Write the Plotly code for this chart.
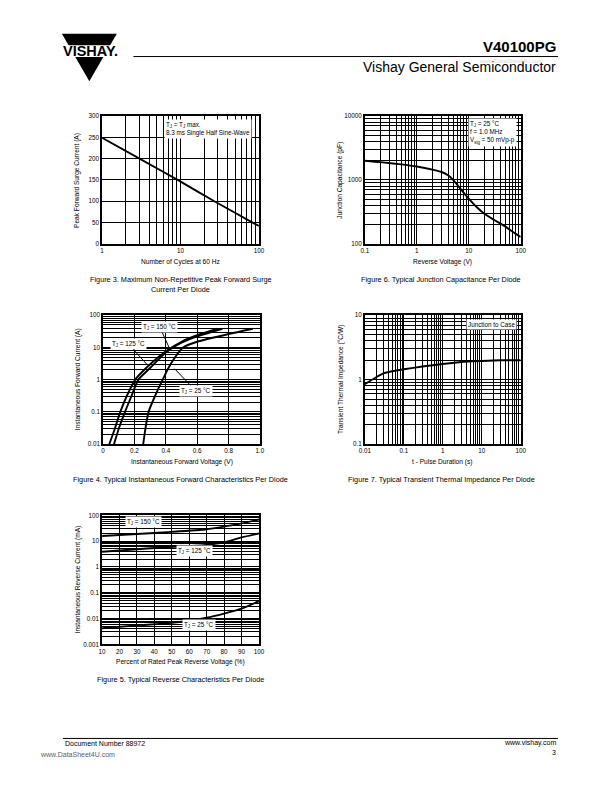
import plotly.graph_objects as go

W, H = 612, 792
FONT = "Liberation Sans, Arial, sans-serif"


def px(x):
    return x / W


def py(y):
    return 1 - y / H


# ---------------- data ----------------
# Figure 3: max non-repetitive peak forward surge current
f3_cycles = [1, 3, 9.2, 27, 83, 100]
f3_ifsm = [249, 200, 150, 100, 50, 42]

# Figure 6: junction capacitance
f6_vr = [0.1, 0.2, 0.5, 1, 2, 3, 4, 5, 7, 10, 14, 20, 30, 50, 70, 100]
f6_cj = [2000, 1900, 1750, 1620, 1450, 1330, 1180, 1000, 720, 510, 380, 295, 240, 188, 155, 128]

# Figure 4: forward characteristics
f4_v150 = [0.04, 0.075, 0.11, 0.15, 0.205, 0.30, 0.40, 0.50, 0.60, 0.73]
f4_i150 = [0.01, 0.03, 0.1, 0.3, 1, 3, 7.6, 15, 24, 38]
f4_v125 = [0.07, 0.10, 0.14, 0.18, 0.225, 0.30, 0.40, 0.50, 0.60, 0.76]
f4_i125 = [0.01, 0.03, 0.1, 0.3, 1, 2.3, 7, 14, 22, 38]
f4_v25 = [0.256, 0.27, 0.29, 0.33, 0.38, 0.43, 0.51, 0.60, 0.80, 0.955]
f4_i25 = [0.01, 0.03, 0.1, 0.3, 1, 3, 10, 15, 26, 38]

# Figure 7: transient thermal impedance
f7_t = [0.01, 0.02, 0.03, 0.05, 0.1, 0.3, 1, 3, 10, 30, 100]
f7_z = [0.85, 1.1, 1.25, 1.35, 1.45, 1.6, 1.75, 1.88, 1.95, 2.0, 2.0]

# Figure 5: reverse characteristics
f5_pct = [10, 30, 50, 70, 80, 90, 100]
f5_i150 = [16, 19, 23, 29, 37, 49, 70]
f5_i125 = [3.9, 4.9, 6.0, 7.2, 9.0, 14, 20]
f5_i25 = [0.0042, 0.0054, 0.0068, 0.0107, 0.0155, 0.024, 0.047]

# tick labels
f3_xlabels = ["1", "10", "100"]
f3_ylabels = ["0", "50", "100", "150", "200", "250", "300"]
f6_xlabels = ["0.1", "1", "10", "100"]
f6_ylabels = ["100", "1000", "10000"]
f4_xlabels = ["0", "0.2", "0.4", "0.6", "0.8", "1.0"]
f4_ylabels = ["0.01", "0.1", "1", "10", "100"]
f7_xlabels = ["0.01", "0.1", "1", "10", "100"]
f7_ylabels = ["0.1", "1", "10"]
f5_xlabels = ["10", "20", "30", "40", "50", "60", "70", "80", "90", "100"]
f5_ylabels = ["0.001", "0.01", "0.1", "1", "10", "100"]


def minor_log(labels):
    vals = []
    decs = [float(s) for s in labels]
    for d in decs[:-1]:
        for m in range(2, 10):
            vals.append(m * d)
    return vals


def axis(domain, typ, rng, labels, anchor, minor_vals=None):
    d = dict(
        domain=domain, type=typ, range=rng,
        tickvals=[float(s) for s in labels], ticktext=labels,
        showgrid=True, gridcolor="black", gridwidth=1, showline=True,
        linecolor="black", linewidth=1.5, mirror=True, ticks="",
        tickfont=dict(size=6.3, family=FONT, color="#000000"),
        zeroline=False, anchor=anchor, fixedrange=True,
    )
    if minor_vals is not None:
        d["minor"] = dict(tickmode="array", tickvals=minor_vals, showgrid=True,
                          gridcolor="black", gridwidth=1, ticks="")
    return d


fig = go.Figure()
line = dict(color="black", width=1.9, shape="spline", smoothing=0.6)

fig.add_trace(go.Scatter(x=f3_cycles, y=f3_ifsm, mode="lines", line=line, xaxis="x", yaxis="y"))
fig.add_trace(go.Scatter(x=f6_vr, y=f6_cj, mode="lines", line=line, xaxis="x2", yaxis="y2"))
fig.add_trace(go.Scatter(x=f4_v150, y=f4_i150, mode="lines", line=line, xaxis="x3", yaxis="y3"))
fig.add_trace(go.Scatter(x=f4_v125, y=f4_i125, mode="lines", line=line, xaxis="x3", yaxis="y3"))
fig.add_trace(go.Scatter(x=f4_v25, y=f4_i25, mode="lines", line=line, xaxis="x3", yaxis="y3"))
fig.add_trace(go.Scatter(x=f7_t, y=f7_z, mode="lines", line=line, xaxis="x4", yaxis="y4"))
fig.add_trace(go.Scatter(x=f5_pct, y=f5_i150, mode="lines", line=line, xaxis="x5", yaxis="y5"))
fig.add_trace(go.Scatter(x=f5_pct, y=f5_i125, mode="lines", line=line, xaxis="x5", yaxis="y5"))
fig.add_trace(go.Scatter(x=f5_pct, y=f5_i25, mode="lines", line=line, xaxis="x5", yaxis="y5"))

layout_axes = dict(
    xaxis=axis([px(98), px(258)], "log", [0, 2], f3_xlabels, "y", minor_log(f3_xlabels)),
    yaxis=axis([py(242), py(113)], "linear", [0, 300], f3_ylabels, "x"),
    xaxis2=axis([px(366), px(525)], "log", [-1, 2], f6_xlabels, "y2", minor_log(f6_xlabels)),
    yaxis2=axis([py(242), py(113)], "log", [2, 4], f6_ylabels, "x2", minor_log(f6_ylabels)),
    xaxis3=axis([px(99), px(259)], "linear", [0, 1], f4_xlabels, "y3"),
    yaxis3=axis([py(444), py(314)], "log", [-2, 2], f4_ylabels, "x3", minor_log(f4_ylabels)),
    xaxis4=axis([px(366), px(525)], "log", [-2, 2], f7_xlabels, "y4", minor_log(f7_xlabels)),
    yaxis4=axis([py(444), py(314)], "log", [-1, 1], f7_ylabels, "x4", minor_log(f7_ylabels)),
    xaxis5=axis([px(98), px(258)], "linear", [10, 100], f5_xlabels, "y5"),
    yaxis5=axis([py(646), py(516)], "log", [-3, 2], f5_ylabels, "x5", minor_log(f5_ylabels)),
)

ann = []


def text(x, y, s, size=6.6, xanchor="center", yanchor="middle", angle=0, bold=False, color="#000000", **kw):
    if bold:
        s = "<b>" + s + "</b>"
    d = dict(x=px(x), y=py(y), xref="paper", yref="paper", text=s, showarrow=False,
             xanchor=xanchor, yanchor=yanchor, textangle=angle,
             font=dict(size=size, family=FONT, color=color))
    d.update(kw)
    ann.append(d)


# axis titles
text(178, 260, "Number of Cycles at 60 Hz")
text(73, 178, "Peak Forward Surge Current (A)", angle=-90)
text(445, 260, "Reverse Voltage (V)")
text(341, 178, "Junction Capacitance (pF)", angle=-90)
text(180, 462, "Instantaneous Forward Voltage (V)")
text(73, 379, "Instantaneous Forward Current (A)", angle=-90)
text(445, 462, "t - Pulse Duration (s)")
text(341, 379, "Transient Thermal Impedance (°C/W)", angle=-90)
text(178, 664, "Percent of Rated Peak Reverse Voltage (%)")
text(73, 581, "Instantaneous Reverse Current (mA)", angle=-90)

# captions
text(178, 278, "Figure 3. Maximum Non-Repetitive Peak Forward Surge", size=7.3)
text(178, 288, "Current Per Diode", size=7.3)
text(444, 278, "Figure 6. Typical Junction Capacitance Per Diode", size=7.3)
text(178, 480, "Figure 4. Typical Instantaneous Forward Characteristics Per Diode", size=7.3)
text(444, 480, "Figure 7. Typical Transient Thermal Impedance Per Diode", size=7.3)
text(178, 682, "Figure 5. Typical Reverse Characteristics Per Diode", size=7.3)

# in-plot labels
box = dict(bgcolor="white", borderpad=1)
text(161, 116, "T<sub>J</sub> = T<sub>J</sub> max.<br>8.3 ms Single Half Sine-Wave", size=6.3,
     xanchor="left", yanchor="top", align="left", **box)
text(471, 115, "T<sub>J</sub> = 25 °C<br>f = 1.0 MHz<br>V<sub>sig</sub> = 50 mVp-p", size=6.3,
     xanchor="left", yanchor="top", align="left", **box)
text(495, 323, "Junction to Case", size=6.3, **box)
text(140, 523, "T<sub>J</sub> = 150 °C", size=6.3, **box)
text(192, 552, "T<sub>J</sub> = 125 °C", size=6.3, **box)
text(197, 627, "T<sub>J</sub> = 25 °C", size=6.3, **box)


def arrow_label(hx, hy, lx, ly, s):
    ann.append(dict(x=px(hx), y=py(hy), xref="paper", yref="paper", text=s,
                    showarrow=True, arrowhead=0, arrowwidth=1, arrowcolor="black",
                    ax=lx - hx, ay=ly - hy, bgcolor="white", borderpad=1,
                    font=dict(size=6.3, family=FONT, color="#000000")))


arrow_label(167, 348, 157, 326, "T<sub>J</sub> = 150 °C")
arrow_label(145, 365, 125, 343, "T<sub>J</sub> = 125 °C")
arrow_label(172, 368, 193, 390, "T<sub>J</sub> = 25 °C")

# header
text(563, 43, "V40100PG", size=15, xanchor="right", bold=True)
text(563, 64, "Vishay General Semiconductor", size=14, xanchor="right")
text(515, 58, "www.DataSheet4U.com", size=6, color="#dadada")
text(86, 47, "VISHAY.", size=14.5, bold=True)

# footer
text(58, 746, "Document Number 88972", size=7, xanchor="left")
text(563, 746, "www.vishay.com", size=7, xanchor="right")
text(563, 755, "3", size=7, xanchor="right")
text(33, 757, "www.DataSheet4U.com", size=7, xanchor="left", color="#606060")

shapes = [
    # Vishay logo triangle
    dict(type="path", xref="paper", yref="paper",
         path="M %f,%f L %f,%f L %f,%f Z" % (px(57), py(30), px(113), py(30), px(85), py(78)),
         fillcolor="black", line=dict(width=0)),
    dict(type="rect", xref="paper", yref="paper", x0=px(50), x1=px(122), y0=py(41.5), y1=py(53.5),
         fillcolor="white", line=dict(width=0)),
    # header rule
    dict(type="line", xref="paper", yref="paper", x0=px(130), x1=px(563), y0=py(53), y1=py(53),
         line=dict(color="black", width=1)),
    # footer rule
    dict(type="line", xref="paper", yref="paper", x0=px(58), x1=px(563), y0=py(741), y1=py(741),
         line=dict(color="black", width=1)),
]

fig.update_layout(
    width=W, height=H, margin=dict(l=0, r=0, t=0, b=0),
    paper_bgcolor="white", plot_bgcolor="white", showlegend=False,
    font=dict(family=FONT, color="#000000"),
    annotations=ann, shapes=shapes, **layout_axes,
)

fig.write_html("out.html", config={"displayModeBar": False},
               post_script="document.body.style.margin='0';document.body.style.overflow='hidden';")
